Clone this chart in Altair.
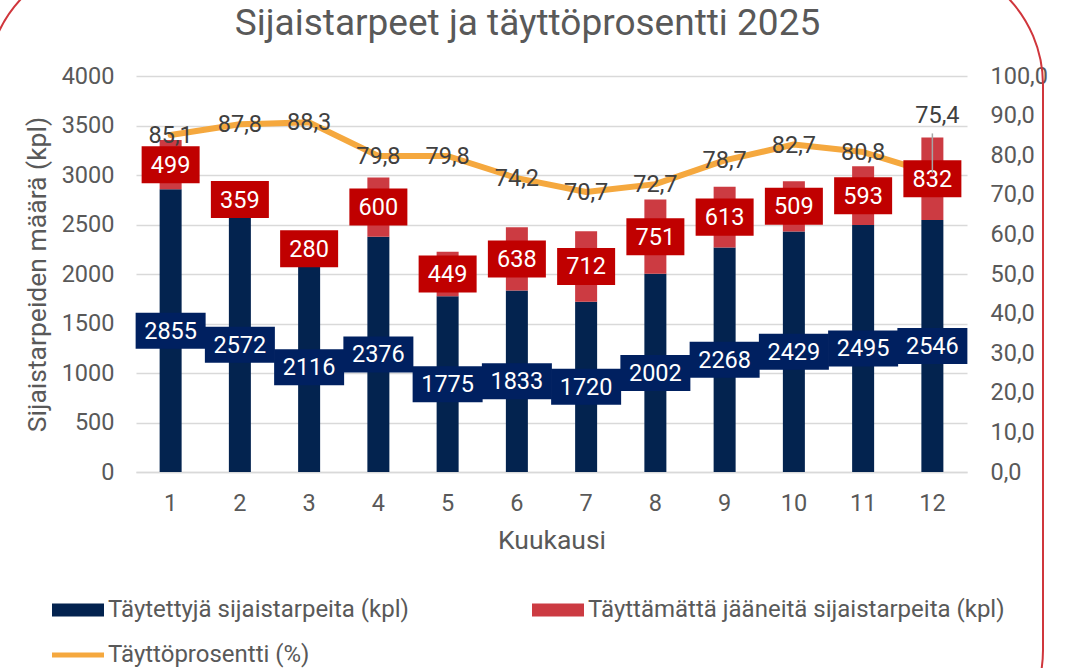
import altair as alt
import pandas as pd

# ---- data ----
months = list(range(1, 13))
filled = [2855, 2572, 2116, 2376, 1775, 1833, 1720, 2002, 2268, 2429, 2495, 2546]
unfilled = [499, 359, 280, 600, 449, 638, 712, 751, 613, 509, 593, 832]
pct = [85.1, 87.8, 88.3, 79.8, 79.8, 74.2, 70.7, 72.7, 78.7, 82.7, 80.8, 75.4]
series_names = [
    "Täytettyjä sijaistarpeita (kpl)",
    "Täyttämättä jääneitä sijaistarpeita (kpl)",
    "Täyttöprosentti (%)",
]
left_ticks = list(range(0, 4001, 500))
right_ticks = list(range(0, 101, 10))

# ---- styles ----
FONT = "Roboto"
TEXT = "#595959"
DARK = "#404040"
GRID = "#D9D9D9"
NAVY_BAR = "#03234F"
NAVY_BOX = "#002060"
RED_BAR = "#CC3B42"
RED_BOX = "#C00000"
ORANGE = "#F5A83E"
FRAME = "#D0363C"
LBL = 23.5      # label font size
TTL = 26.5      # axis title font size

W, H = 831, 396
PAD = {"left": 136, "top": 76, "right": 1068 - 136 - W, "bottom": 668 - 76 - H}

df = pd.DataFrame({"month": months, "filled": filled, "unfilled": unfilled, "pct": pct})
df["total"] = df["filled"] + df["unfilled"]
df["filled_mid"] = df["filled"] / 2
df["unfilled_mid"] = df["filled"] + df["unfilled"] / 2
df["filled_label"] = df["filled"].astype(str)
df["unfilled_label"] = df["unfilled"].astype(str)
df["pct_label"] = [f"{v:.1f}".replace(".", ",") for v in pct]

base = alt.Chart(df)

XSCALE = alt.Scale(paddingInner=0, paddingOuter=0)
XAXIS = alt.Axis(
    title="Kuukausi", labelAngle=0, ticks=False, domainColor=GRID, domainWidth=1.5,
    labelPadding=19, titlePadding=13, labelFontSize=LBL, titleFontSize=TTL,
    labelColor=TEXT, titleColor=TEXT, labelFont=FONT, titleFont=FONT, titleFontWeight="normal",
)
x_enc = alt.X("month:O", scale=XSCALE, axis=XAXIS)

LSCALE = alt.Scale(domain=[0, 4000], nice=False, zero=True)
RSCALE = alt.Scale(domain=[0, 100], nice=False, zero=True)

bars_filled = base.mark_bar(size=22, color=NAVY_BAR).encode(
    x=x_enc,
    y=alt.Y(
        "filled:Q", scale=LSCALE,
        axis=alt.Axis(
            orient="left", values=left_ticks, format="d", title="Sijaistarpeiden määrä (kpl)",
            grid=True, gridColor=GRID, gridWidth=1.5, domain=False, ticks=False,
            labelPadding=22, titlePadding=10, labelFontSize=LBL, titleFontSize=TTL,
            labelColor=TEXT, titleColor=TEXT, labelFont=FONT, titleFont=FONT,
            titleFontWeight="normal",
        ),
    ),
)
bars_unfilled = base.mark_bar(size=22, color=RED_BAR).encode(
    x=x_enc,
    y=alt.Y("total:Q", scale=LSCALE, axis=None),
    y2="filled:Q",
)

line = base.mark_line(color=ORANGE, strokeWidth=6, strokeJoin="round", strokeCap="round").encode(
    x=x_enc,
    y=alt.Y(
        "pct:Q", scale=RSCALE,
        axis=alt.Axis(
            orient="right", values=right_ticks, title=None, grid=False, domain=False, ticks=False,
            labelPadding=23, labelFontSize=LBL, labelColor=TEXT, labelFont=FONT,
            labelExpr="replace(format(datum.value, '.1f'), '.', ',')",
        ),
    ),
)

BOX4 = "M-1,-0.514H1V0.514H-1Z"
BOX3 = "M-1,-0.638H1V0.638H-1Z"

navy_boxes = base.mark_point(shape=BOX4, size=4900, filled=True, color=NAVY_BOX, opacity=1, strokeWidth=0).encode(
    x=x_enc, y=alt.Y("filled_mid:Q", scale=LSCALE, axis=None)
)
navy_text = base.mark_text(color="white", fontSize=LBL, font=FONT, baseline="middle", dy=1).encode(
    x=x_enc, y=alt.Y("filled_mid:Q", scale=LSCALE, axis=None), text="filled_label:N"
)
red_boxes = base.mark_point(shape=BOX3, size=3364, filled=True, color=RED_BOX, opacity=1, strokeWidth=0).encode(
    x=x_enc, y=alt.Y("unfilled_mid:Q", scale=LSCALE, axis=None)
)
red_text = base.mark_text(color="white", fontSize=LBL, font=FONT, baseline="middle", dy=1).encode(
    x=x_enc, y=alt.Y("unfilled_mid:Q", scale=LSCALE, axis=None), text="unfilled_label:N"
)

pct_text = base.transform_filter(alt.datum.month < 12).mark_text(
    color=DARK, fontSize=LBL, font=FONT, baseline="middle", dy=1
).encode(x=x_enc, y=alt.Y("pct:Q", scale=RSCALE, axis=None), text="pct_label:N")
pct_text_last = base.transform_filter(alt.datum.month == 12).mark_text(
    color=DARK, fontSize=LBL, font=FONT, baseline="middle", dy=-57, dx=5
).encode(x=x_enc, y=alt.Y("pct:Q", scale=RSCALE, axis=None), text="pct_label:N")
leader = base.transform_filter(alt.datum.month == 12).mark_rule(
    color="#A6A6A6", strokeWidth=1.5, y2Offset=-40
).encode(x=x_enc, y=alt.Y("pct:Q", scale=RSCALE, axis=None), y2="pct:Q")

# legend (invisible points carrying the series colours and symbol shapes)
RECT_SYM = "M-1,-0.25H1V0.25H-1Z"
LINE_SYM = "M-1,-0.1H1V0.1H-1Z"
legend_df = pd.DataFrame({"series": series_names})
leg = dict(
    orient="none", legendX=-84, legendY=508, columns=2, direction="horizontal",
    columnPadding=123, rowPadding=7,
    symbolSize=2704, labelFontSize=24, labelColor=TEXT, labelFont=FONT, labelLimit=700,
    labelOffset=4, title=None, symbolStrokeWidth=0, symbolOpacity=1,
)
legend_layer = alt.Chart(legend_df).mark_point(filled=True, opacity=0).encode(
    color=alt.Color("series:N", scale=alt.Scale(domain=series_names, range=[NAVY_BAR, RED_BAR, ORANGE]),
                    legend=alt.Legend(**leg)),
    shape=alt.Shape("series:N", scale=alt.Scale(domain=series_names, range=[RECT_SYM, RECT_SYM, LINE_SYM]),
                    legend=alt.Legend(**leg)),
)

frame = alt.Chart(pd.DataFrame({"k": [0]})).mark_rect(
    fillOpacity=0, stroke=FRAME, strokeWidth=2, cornerRadius=126
).encode(x=alt.value(-149), x2=alt.value(907), y=alt.value(-117), y2=alt.value(700))

chart = alt.layer(
    bars_filled, bars_unfilled, line, navy_boxes, navy_text, red_boxes, red_text,
    pct_text, pct_text_last, leader, legend_layer, frame,
).resolve_scale(
    y="independent"
).properties(
    width=W, height=H,
    padding=PAD,
    autosize=alt.AutoSizeParams(type="none"),
    title=alt.Title(
        "Sijaistarpeet ja täyttöprosentti 2025", fontSize=37, font=FONT, fontWeight="normal",
        color=TEXT, anchor="middle", frame="group", dx=-24, offset=0, dy=85,
    ),
).configure(font=FONT).configure_view(strokeWidth=0)

chart.save("out.html", embed_options={"renderer": "svg", "actions": False})
